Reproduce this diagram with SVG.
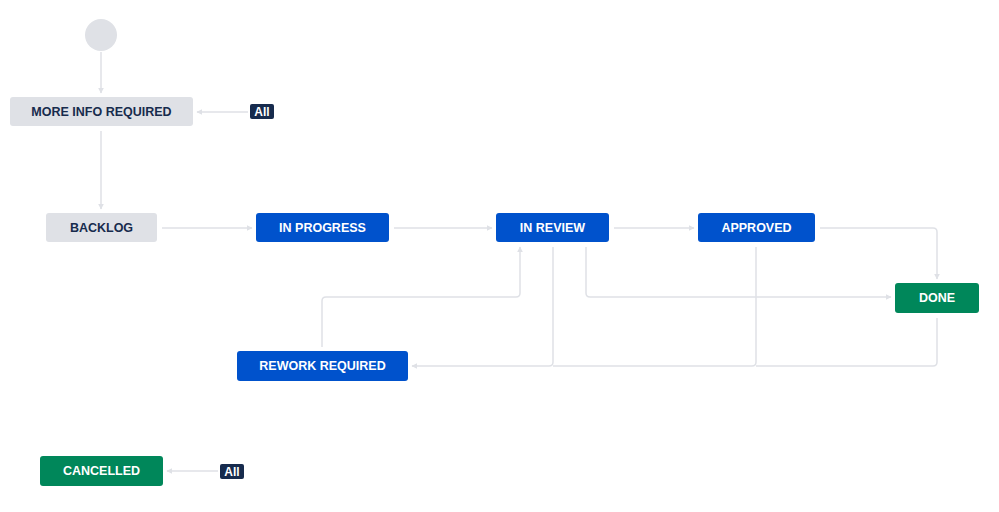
<svg xmlns="http://www.w3.org/2000/svg" width="999" height="512" viewBox="0 0 999 512">
<style>
text{font-family:"Liberation Sans",Arial,sans-serif;font-weight:bold;font-size:12.5px;text-anchor:middle;dominant-baseline:central}
.g rect{fill:#dfe1e6}.g text{fill:#172b4d}
.b rect{fill:#0052cc}.b text,.d text,.a text{fill:#fff}
.d rect{fill:#00875a}
.a rect{fill:#172b4d}.a text{font-size:12px}
.c path{fill:none;stroke:#dfe1e6;stroke-width:1.5;marker-end:url(#ar)}
.c path.n{marker-end:none}
</style>
<defs><marker id="ar" viewBox="0 0 10 10" refX="9" refY="5" markerWidth="6" markerHeight="6" markerUnits="userSpaceOnUse" orient="auto"><path d="M0,0L10,5L0,10z" fill="#dfe1e6"/></marker></defs>
<rect width="999" height="512" fill="#fff"/>
<g class="c" id="connectors">
<path d="M101,52V93"/>
<path d="M248,112H197"/>
<path d="M101,131V209"/>
<path d="M162,228H252"/>
<path d="M394,228H492"/>
<path d="M614,228H694"/>
<path d="M820,228H933q4,0 4,4V279"/>
<path d="M586,247V293q0,4 4,4H891"/>
<path d="M322,347V301q0,-4 4,-4H516q4,0 4,-4V247"/>
<path d="M553,247V362q0,4 -4,4H412"/>
<path class="n" d="M756,247V362q0,4 -4,4H553"/>
<path class="n" d="M937,318V362q0,4 -4,4H756"/>
<path d="M218,471H167"/>
</g>
<circle id="start" cx="101" cy="35" r="16" fill="#dfe1e6"/>
<g id="more-info" class="g"><rect x="10" y="97" width="183" height="29" rx="3"/><text x="101.5" y="112">MORE INFO REQUIRED</text></g>
<g id="all1" class="a"><rect x="250" y="104" width="24" height="15" rx="2"/><text x="262" y="112">All</text></g>
<g id="backlog" class="g"><rect x="46" y="213" width="111" height="29" rx="3"/><text x="101.5" y="228">BACKLOG</text></g>
<g id="in-progress" class="b"><rect x="256" y="213" width="133" height="29" rx="3"/><text x="322.5" y="228">IN PROGRESS</text></g>
<g id="in-review" class="b"><rect x="496" y="213" width="113" height="29" rx="3"/><text x="552.5" y="228">IN REVIEW</text></g>
<g id="approved" class="b"><rect x="698" y="213" width="117" height="29" rx="3"/><text x="756.5" y="228">APPROVED</text></g>
<g id="done" class="d"><rect x="895" y="283" width="84" height="30" rx="3"/><text x="937" y="298">DONE</text></g>
<g id="rework" class="b"><rect x="237" y="351" width="171" height="30" rx="3"/><text x="322.5" y="366">REWORK REQUIRED</text></g>
<g id="cancelled" class="d"><rect x="40" y="456" width="123" height="30" rx="3"/><text x="101.5" y="471">CANCELLED</text></g>
<g id="all2" class="a"><rect x="220" y="464" width="24" height="15" rx="2"/><text x="232" y="472">All</text></g>
</svg>
